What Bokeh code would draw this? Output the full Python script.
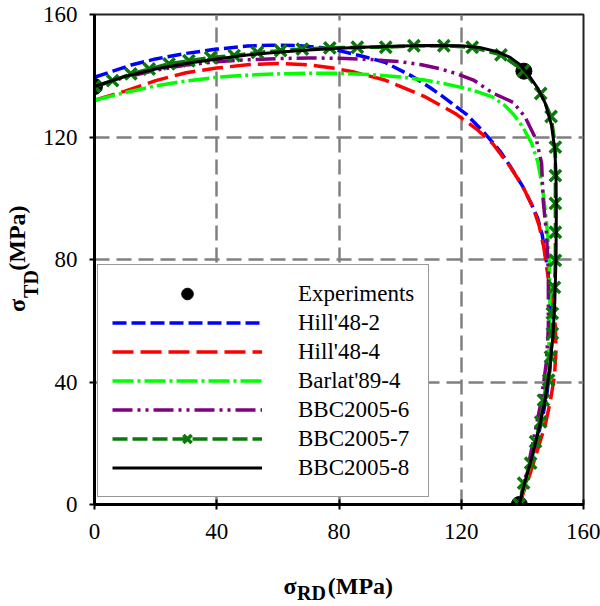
from bokeh.plotting import figure
from bokeh.models import Range1d, FixedTicker, Legend, LegendItem, LinearAxis
from bokeh.embed import file_html
from bokeh.resources import INLINE

# ---------------- data (MPa) ----------------
exp_x = [0, 140.5, 139]
exp_y = [136.5, 141.5, 0]

hill2_x = [0, 6, 12, 20, 30, 40, 50, 58, 66, 74, 80, 88, 95, 104, 110, 114, 121.6, 127, 132.6, 136, 140.2, 143, 145, 146.5, 147.8, 148.8, 149.4, 149.5, 149, 148, 146.5, 144.5, 142.5, 139]
hill2_y = [139.5, 141.5, 143.5, 145.5, 147.3, 148.7, 149.7, 150, 149.9, 149.2, 148.2, 146.3, 144.4, 139.8, 136, 133.2, 127.5, 122, 115.5, 110.5, 103.7, 98, 93.5, 88, 80, 72, 62, 52, 44, 36, 28, 20, 12, 0]

hill4_x = [0, 5, 10, 20, 30, 40, 50, 60, 70, 78, 85, 95, 108, 118, 125, 130.4, 136, 140.2, 143.5, 145.5, 147, 148.5, 149.8, 150.8, 151, 150.5, 149.2, 147.5, 145, 142.5, 139]
hill4_y = [132, 133.5, 135, 138.4, 141, 142.5, 143.6, 144, 143.6, 142.5, 141.2, 138.6, 133.2, 127.7, 122.6, 117.7, 110.3, 103.7, 97, 91, 84, 74, 66, 58, 50, 42, 34, 26, 18, 10, 0]

barlat_x = [0, 10, 20, 30, 40, 50, 60, 70, 80, 90, 100, 108, 114, 120, 124, 130, 134, 137, 140, 143, 145, 146.5, 147.5, 148.3, 148.8, 149, 149, 148.6, 147.8, 146.3, 144.2, 141.8, 139]
barlat_y = [132, 134.5, 136.7, 138.3, 139.5, 140.2, 140.6, 140.8, 140.8, 140.4, 139.6, 138.6, 137.5, 136.2, 135.2, 133.2, 130.5, 127.5, 123.5, 118, 112, 104, 96, 88, 80, 70, 60, 50, 40, 30, 20, 10, 0]

bbc6_x = [0, 10, 20, 30, 40, 50, 60, 70, 80, 90, 100, 107, 113, 119, 124, 130.4, 137, 140.8, 144.6, 146.3, 146.8, 147.9, 148.5, 148.5, 148.5, 147.9, 147, 145.8, 144, 142, 139]
bbc6_y = [136.5, 139.5, 141.8, 143.5, 144.6, 145.2, 145.6, 145.8, 145.7, 145.3, 144.6, 143.6, 142.3, 140.5, 138.6, 134.3, 131.3, 126.7, 119, 111.4, 99.3, 88.4, 75.3, 66.6, 57.8, 46.9, 40, 32, 23, 13, 0]

bbc7_x = [0, 5.9, 11.9, 17.9, 24.4, 30.9, 38.0, 45.7, 53.3, 60.9, 68.0, 77.0, 86.0, 95.3, 104.5, 114.3, 123.6, 133.0, 140.4, 146.0, 149.4, 150.8, 150.8, 150.8, 150.8, 150.8, 150.5, 149.8, 149.8, 149.2, 148.6, 146.9, 146.0, 144.3, 142.7, 140.4, 139]
bbc7_y = [136.5, 138.4, 140.6, 142.2, 143.9, 144.9, 146.0, 146.6, 147.6, 148.2, 148.7, 149.1, 149.3, 149.3, 149.8, 149.8, 149.3, 146.8, 141.7, 134.2, 126.7, 116.7, 107.4, 98.3, 88.9, 79.7, 70.9, 62.4, 55.9, 48.2, 40.6, 34.1, 27.0, 20.5, 13.5, 7.0, 0]

bbc8_x = [0, 10, 20, 30, 40, 50, 60, 70, 80, 90, 100, 110, 120, 126, 132, 136, 139, 142, 145, 147.5, 149.5, 150.6, 151, 151.1, 151, 150.6, 150, 149, 147.6, 145.5, 143, 141, 139]
bbc8_y = [136.5, 139.8, 142.2, 144, 145.5, 146.8, 147.7, 148.4, 149, 149.4, 149.7, 149.9, 149.8, 149.2, 147.8, 146, 143.8, 140.3, 136, 131, 124, 116, 108, 95, 80, 66, 55, 45, 35, 25, 15, 8, 0]

ticks = [0, 40, 80, 120, 160]
grid_ticks = [40, 80, 120]
labels = ["Experiments", "Hill'48-2", "Hill'48-4", "Barlat'89-4", "BBC2005-6", "BBC2005-7", "BBC2005-8"]

# axis-title pieces: (text, position along axis in data units)
x_title_main = [("σ", 64), ("(MPa)", 87)]
x_title_sub = [("RD", 71)]
y_title_main = [("σ", 65), ("(MPa)", 87)]
y_title_sub = [("TD", 72)]

# ---------------- figure ----------------
SERIF = "Liberation Serif"
p = figure(width=600, height=606, output_backend="svg", toolbar_location=None,
           x_range=Range1d(0, 160), y_range=Range1d(0, 160),
           min_border_left=94, min_border_right=17, min_border_top=14, min_border_bottom=102)
p.background_fill_color = "white"
p.border_fill_color = "white"
p.outline_line_color = "#222222"
p.outline_line_width = 2

p.xaxis.ticker = FixedTicker(ticks=ticks)
p.yaxis.ticker = FixedTicker(ticks=ticks)
p.xgrid.ticker = FixedTicker(ticks=grid_ticks)
p.ygrid.ticker = FixedTicker(ticks=grid_ticks)
p.grid.grid_line_color = "#808080"
p.grid.grid_line_width = 2.5
p.grid.grid_line_dash = "15 7"

p.axis.axis_line_width = 3
p.axis.axis_line_color = "black"
p.axis.major_tick_line_color = "black"
p.axis.major_tick_line_width = 2
p.axis.minor_tick_line_color = None
p.xaxis.major_tick_in = 5
p.xaxis.major_tick_out = 5
p.yaxis.major_tick_in = 0
p.yaxis.major_tick_out = 5
p.axis.major_label_text_font = SERIF
p.axis.major_label_text_font_size = "23px"
p.axis.major_label_text_color = "black"
p.xaxis.major_label_standoff = 14
p.yaxis.major_label_standoff = 12

# ---------------- series ----------------
GREEN7 = "#0a780a"
r_exp = p.scatter(exp_x, exp_y, marker="circle", size=16, color="black")
r_h2 = p.line(hill2_x, hill2_y, line_color="#0000FF", line_width=3.5, line_dash="14 5")
r_h4 = p.line(hill4_x, hill4_y, line_color="#FF0000", line_width=3.5, line_dash="21 7")
r_ba = p.line(barlat_x, barlat_y, line_color="#00FF00", line_width=3.5, line_dash="21 4 3 4")
r_b6 = p.line(bbc6_x, bbc6_y, line_color="#800080", line_width=3.5, line_dash="20 5 3 5 3 5")
r_b7l = p.line(bbc7_x, bbc7_y, line_color=GREEN7, line_width=3.5, line_dash="15 5")
r_b7m = p.scatter(bbc7_x, bbc7_y, marker="x", size=16, line_color=GREEN7, line_width=3.5)
r_b8 = p.line(bbc8_x, bbc8_y, line_color="black", line_width=3)

legend = Legend(items=[
    LegendItem(label=labels[0], renderers=[r_exp]),
    LegendItem(label=labels[1], renderers=[r_h2]),
    LegendItem(label=labels[2], renderers=[r_h4]),
    LegendItem(label=labels[3], renderers=[r_ba]),
    LegendItem(label=labels[4], renderers=[r_b6]),
    LegendItem(label=labels[5], renderers=[r_b7l, r_b7m]),
    LegendItem(label=labels[6], renderers=[r_b8]),
], location=(3, 7))
legend.label_text_font = SERIF
legend.label_text_font_size = "23px"
legend.label_text_color = "black"
legend.glyph_width = 150
legend.glyph_height = 29
legend.label_height = 29
legend.label_standoff = 36
legend.spacing = 0
legend.padding = 14
legend.margin = 0
legend.border_line_color = "#333333"
legend.border_line_width = 1.5
legend.background_fill_color = "white"
legend.background_fill_alpha = 1
p.add_layout(legend)

# ---------------- axis titles (tick-less axes carrying the title pieces) ----------------
def title_axis(side, pieces, size, standoff, orientation="horizontal"):
    pos = [v for _, v in pieces]
    ax = LinearAxis(ticker=FixedTicker(ticks=pos),
                    major_label_overrides={v: t for t, v in pieces},
                    axis_line_color=None, major_tick_line_color=None,
                    minor_tick_line_color=None, major_tick_in=0, major_tick_out=0,
                    major_label_text_font=SERIF, major_label_text_font_size=size,
                    major_label_text_font_style="bold", major_label_text_color="black",
                    major_label_standoff=standoff, major_label_orientation=orientation)
    p.add_layout(ax, side)

title_axis("below", x_title_main, "24px", 31)
title_axis("below", x_title_sub, "20px", -20)
title_axis("left", y_title_sub, "20px", -2, "parallel")
title_axis("left", y_title_main, "24px", -13, "parallel")

open("out.html", "w").write(file_html(p, INLINE))
